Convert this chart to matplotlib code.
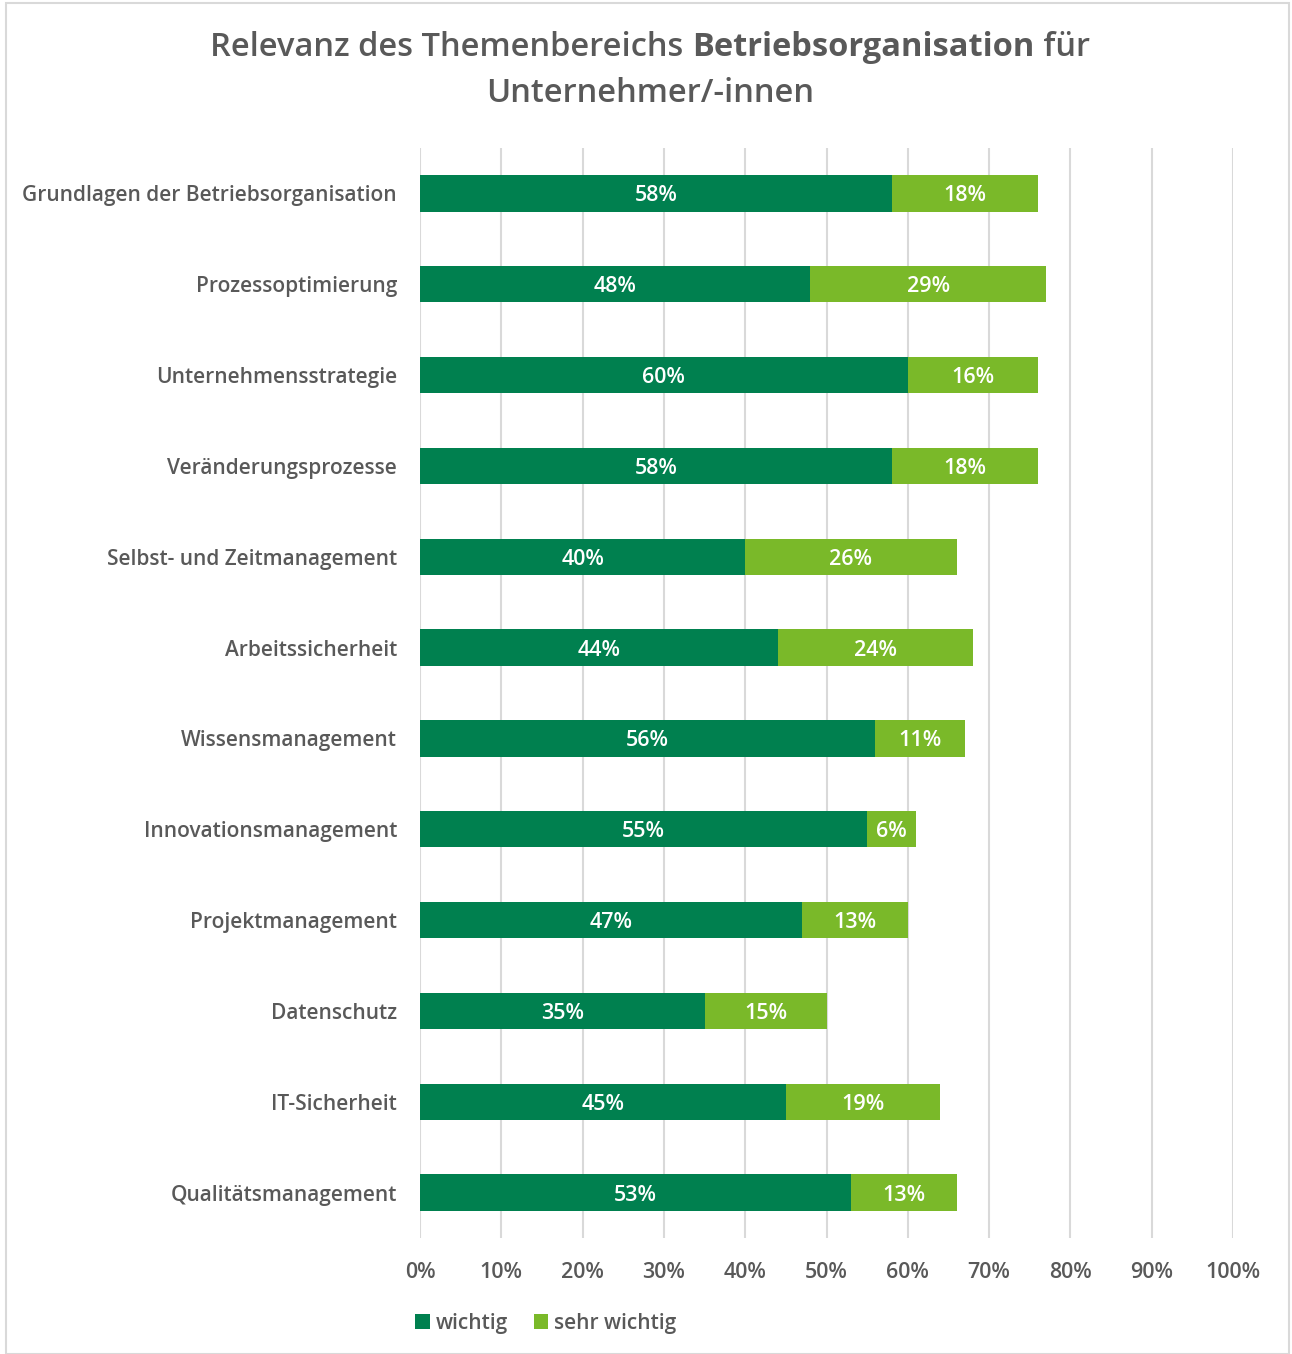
import matplotlib.pyplot as plt
from matplotlib.patches import Rectangle
import numpy as np

plt.rcParams['font.family'] = ['Open Sans', 'DejaVu Sans']

themen = ['Grundlagen der Betriebsorganisation', 'Prozessoptimierung',
          'Unternehmensstrategie', 'Veränderungsprozesse',
          'Selbst- und Zeitmanagement', 'Arbeitssicherheit',
          'Wissensmanagement', 'Innovationsmanagement', 'Projektmanagement',
          'Datenschutz', 'IT-Sicherheit', 'Qualitätsmanagement']
wichtig = [58, 48, 60, 58, 40, 44, 56, 55, 47, 35, 45, 53]
sehr_wichtig = [18, 29, 16, 18, 26, 24, 11, 6, 13, 15, 19, 13]
xticks = list(range(0, 101, 10))

dunkel = '#00804F'
hell = '#7AB929'
grau = '#595959'

fig = plt.figure(figsize=(12.92, 13.54), dpi=100)
fig.patches.append(Rectangle((6/1292, 0), 1 - 9/1292, 1 - 3/1354, transform=fig.transFigure,
                             fill=False, edgecolor='#D9D9D9', linewidth=1.5))
ax = fig.add_axes([420/1292, 1 - 1238/1354, 813/1292, 1090/1354])

y = np.arange(len(themen))
ax.barh(y, wichtig, height=0.4, color=dunkel, label='wichtig', zorder=3)
ax.barh(y, sehr_wichtig, left=wichtig, height=0.4, color=hell, label='sehr wichtig', zorder=3)

for i in range(len(themen)):
    ax.text(wichtig[i] / 2, i, f'{wichtig[i]}%', ha='center', va='center_baseline',
            color='white', fontsize=15.5, fontweight='semibold', zorder=4)
    ax.text(wichtig[i] + sehr_wichtig[i] / 2, i, f'{sehr_wichtig[i]}%', ha='center',
            va='center_baseline', color='white', fontsize=15.5, fontweight='semibold', zorder=4)

ax.set_ylim(len(themen) - 0.5, -0.5)
ax.set_xlim(0, 100)
ax.set_yticks(y)
ax.set_yticklabels(themen, fontsize=15, color=grau, fontweight='semibold')
ax.set_xticks(xticks)
ax.set_xticklabels([f'{t}%' for t in xticks], fontsize=15.5, color=grau, fontweight='semibold')
ax.tick_params(axis='both', length=0)
ax.tick_params(axis='y', pad=16.5)
ax.tick_params(axis='x', pad=17)
ax.grid(axis='x', color='#D9D9D9', linewidth=1.5, zorder=0)
for s in ax.spines.values():
    s.set_visible(False)

leg = fig.legend(loc='center', bbox_to_anchor=(546/1292, 1 - 1323/1354), ncol=2,
                 frameon=False, prop={'size': 15, 'weight': 'semibold'},
                 handlelength=0.7, handleheight=0.7,
                 handletextpad=0.3, columnspacing=1.2)
for t in leg.get_texts():
    t.set_color(grau)

# Titel mit fettem Mittelteil
renderer = fig.canvas.get_renderer()
teile = [('Relevanz des Themenbereichs ', 'semibold'), ('Betriebsorganisation', 'bold'), (' für', 'semibold')]
objs = [fig.text(0, 1 - 47/1354, t, fontsize=23.5, fontweight=w, color=grau, va='center')
        for t, w in teile]
breiten = [o.get_window_extent(renderer).width for o in objs]
x0 = 650 - sum(breiten) / 2
for o, b in zip(objs, breiten):
    o.set_x(x0 / 1292)
    x0 += b
fig.text(650/1292, 1 - 93/1354, 'Unternehmer/-innen', fontsize=23.5, color=grau,
         fontweight='semibold', ha='center', va='center')

fig.savefig('out.png')
